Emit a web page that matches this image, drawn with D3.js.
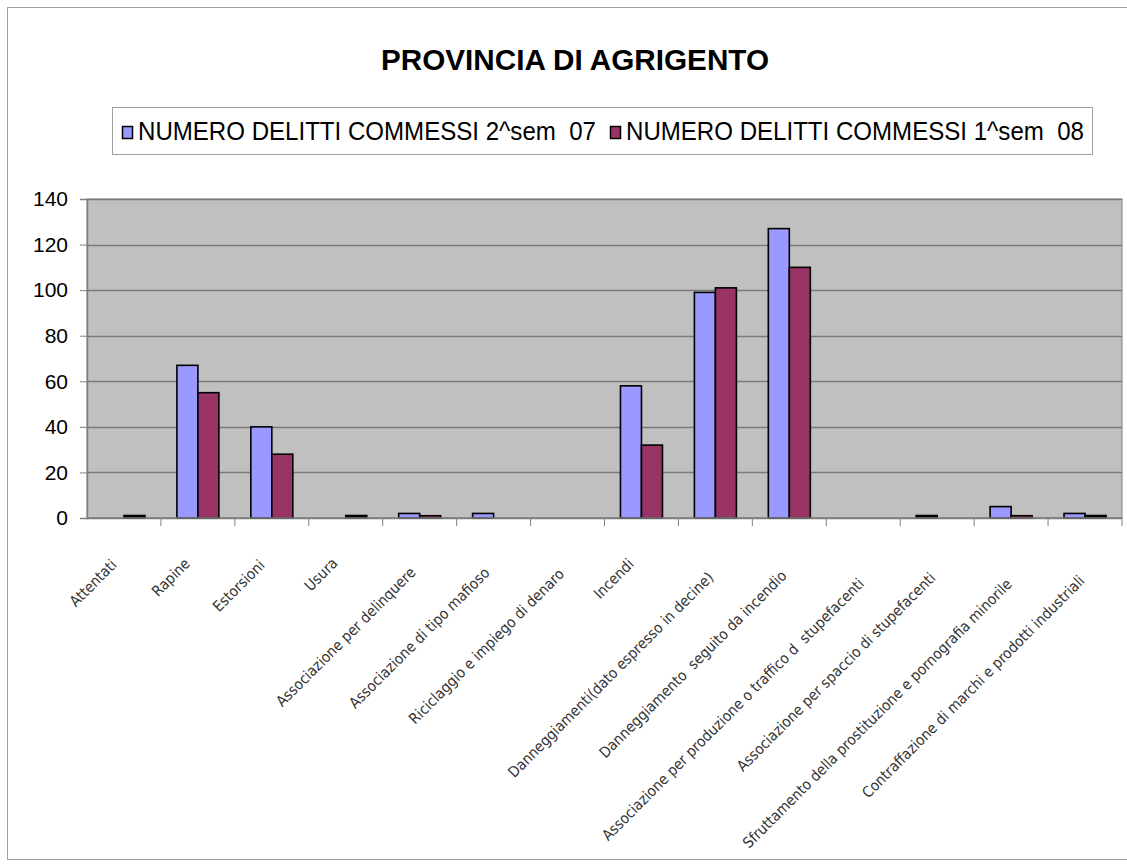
<!DOCTYPE html>
<html>
<head>
<meta charset="utf-8">
<script src="https://cdn.jsdelivr.net/npm/d3@7"></script>
<style>
  body { margin: 0; background: #fff; }
  svg { display: block; }
</style>
</head>
<body>
<div id="chart"></div>
<script>
// data (null = no bar)
var categories = [
  "Attentati", "Rapine", "Estorsioni", "Usura",
  "Associazione per delinquere", "Associazione di tipo mafioso",
  "Riciclaggio e impiego di denaro", "Incendi",
  "Danneggiamenti(dato espresso in decine)",
  "Danneggiamento  seguito da incendio",
  "Associazione per produzione o traffico d  stupefacenti",
  "Associazione per spaccio di stupefacenti",
  "Sfruttamento della prostituzione e pornografia minorile",
  "Contraffazione di marchi e prodotti industriali"
];
var seriesNames = ["NUMERO DELITTI COMMESSI 2^sem  07", "NUMERO DELITTI COMMESSI 1^sem  08"];
var sem2_07 = [null, 67, 40, null, 2, 2, null, 58, 99, 127, null, 0, 5, 2];
var sem1_08 = [0, 55, 28, 0, 1, null, null, 32, 101, 110, null, null, 1, 0];
var yTicks = [0, 20, 40, 60, 80, 100, 120, 140];
var colors = ["#9999FF", "#993366"];

var W = 1127, H = 868;
var plot = {left: 87, right: 1122, top: 199, bottom: 518};

var svg = d3.select("#chart").append("svg")
  .attr("width", W).attr("height", H);

// outer chart frame
svg.append("rect")
  .attr("x", 7.5).attr("y", 7.5)
  .attr("width", 1135).attr("height", 852)
  .attr("fill", "#fff").attr("stroke", "#a0a0a0");

svg.append("text")
  .attr("x", 575).attr("y", 70)
  .attr("text-anchor", "middle")
  .attr("textLength", 388).attr("lengthAdjust", "spacingAndGlyphs")
  .style("font", "bold 29px Arial, 'Liberation Sans', sans-serif")
  .text("PROVINCIA DI AGRIGENTO");

// legend
var leg = svg.append("g");
leg.append("rect")
  .attr("x", 112.5).attr("y", 107.5)
  .attr("width", 980).attr("height", 47)
  .attr("fill", "#fff").attr("stroke", "#a0a0a0");
var legX = [122, 610];
seriesNames.forEach(function(s, i) {
  leg.append("rect")
    .attr("x", legX[i] + 0.5).attr("y", 126.5)
    .attr("width", 10).attr("height", 12)
    .attr("fill", colors[i]).attr("stroke", "#000").attr("stroke-width", 1.5);
  leg.append("text")
    .attr("x", legX[i] + 16).attr("y", 140)
    .attr("textLength", 458).attr("lengthAdjust", "spacingAndGlyphs")
    .style("font", "25px Arial, 'Liberation Sans', sans-serif")
    .style("white-space", "pre")
    .text(s);
});

var x = d3.scaleBand()
  .domain(categories)
  .range([plot.left, plot.right]);
var xs = d3.scaleBand()
  .domain([0, 1])
  .range([0, x.bandwidth()])
  .paddingOuter(0.76);
var y = d3.scaleLinear()
  .domain([0, 140])
  .range([plot.bottom, plot.top]);

// plot area
svg.append("rect")
  .attr("x", plot.left).attr("y", plot.top)
  .attr("width", plot.right - plot.left).attr("height", plot.bottom - plot.top)
  .attr("fill", "#C0C0C0").attr("stroke", "#808080");

svg.append("g")
  .selectAll("line")
  .data(yTicks)
  .join("line")
  .attr("x1", plot.left).attr("x2", plot.right)
  .attr("y1", function(d) { return Math.round(y(d)) + 0.5; })
  .attr("y2", function(d) { return Math.round(y(d)) + 0.5; })
  .attr("stroke", "#7a7a7a").attr("stroke-width", 1.4);

// bars (zero values show as a flat black bar like in the original)
var allSeries = [sem2_07, sem1_08];
allSeries.forEach(function(vals, si) {
  svg.append("g")
    .selectAll("rect")
    .data(vals.map(function(v, i) { return {cat: categories[i], v: v}; })
      .filter(function(d) { return d.v !== null; }))
    .join("rect")
    .attr("x", function(d) { return x(d.cat) + xs(si); })
    .attr("y", function(d) { return d.v === 0 ? y(0) - 2.5 : y(d.v); })
    .attr("width", xs.bandwidth())
    .attr("height", function(d) { return d.v === 0 ? 2.5 : y(0) - y(d.v); })
    .attr("fill", function(d) { return d.v === 0 ? "#000" : colors[si]; })
    .attr("stroke", "#000").attr("stroke-width", 1.6);
});

// y axis
var yAxis = svg.append("g")
  .attr("transform", "translate(" + plot.left + ",0)")
  .call(d3.axisLeft(y).tickValues(yTicks).tickSize(7).tickPadding(12));
yAxis.select(".domain").attr("stroke", "#808080").attr("stroke-width", 1.5);
yAxis.selectAll(".tick line").attr("stroke", "#808080");
yAxis.selectAll("text")
  .style("font", "21px Arial, 'Liberation Sans', sans-serif")
  .attr("fill", "#000");

// x axis: ticks at category boundaries
var xAxis = svg.append("g")
  .attr("transform", "translate(0," + plot.bottom + ")");
xAxis.append("line")
  .attr("x1", plot.left).attr("x2", plot.right)
  .attr("stroke", "#808080").attr("stroke-width", 1.5);
xAxis.selectAll("line.tk")
  .data(categories)
  .join("line")
  .attr("class", "tk")
  .attr("x1", function(d) { return x(d) + x.bandwidth(); })
  .attr("x2", function(d) { return x(d) + x.bandwidth(); })
  .attr("y1", 0).attr("y2", 8)
  .attr("stroke", "#808080");

// rotated labels; longer labels sit a little lower, as in the original
xAxis.selectAll("text")
  .data(categories)
  .join("text")
  .attr("transform", function(d) {
    var L = d.length;
    var dx = -8 + 0.18 * L, dy = 44 + 0.42 * L;
    return "translate(" + (x(d) + x.bandwidth() / 2 + dx) + "," + dy + ") rotate(-45)";
  })
  .attr("text-anchor", "end")
  .style("font", "15px 'Liberation Sans Narrow', 'DejaVu Sans Condensed', sans-serif")
  .style("white-space", "pre")
  .attr("fill", "#333")
  .text(function(d) { return d; });
</script>
</body>
</html>
